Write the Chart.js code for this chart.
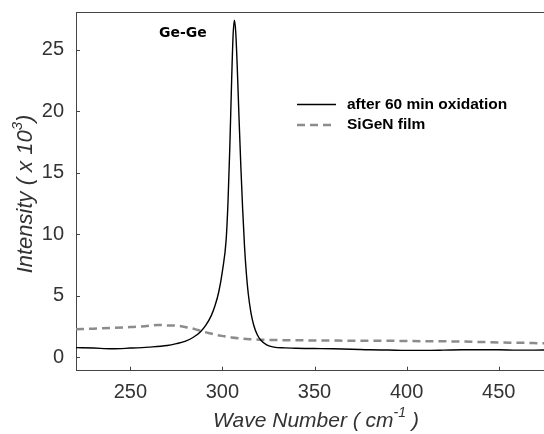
<!DOCTYPE html>
<html>
<head>
<meta charset="utf-8">
<script src="https://cdn.jsdelivr.net/npm/chart.js@4.4.0/dist/chart.umd.min.js"></script>
<style>
  html, body { margin: 0; padding: 0; background: #fff; }
</style>
</head>
<body>
<canvas id="raman" width="544" height="434"></canvas>
<script>
// Raman spectra (intensity in units of 10^3)
const oxWave = [220.5, 230, 240, 250, 260, 270, 275, 280, 284, 288, 291, 294, 296, 298, 300, 302, 303, 304, 305, 305.8, 306.5, 307.2, 308, 309, 310, 311, 312, 313, 314, 315.5, 317, 319, 321, 324, 328, 334, 340, 350, 360, 370, 380, 390, 400, 410, 420, 430, 440, 450, 460, 474.6];
const oxIntensity = [0.78, 0.74, 0.68, 0.74, 0.82, 0.95, 1.1, 1.3, 1.6, 2.05, 2.6, 3.4, 4.2, 5.3, 7.0, 9.5, 12.5, 17, 22.5, 26.2, 27.4, 26.5, 23.8, 19.5, 15.5, 12, 9, 6.8, 5.2, 3.6, 2.6, 1.8, 1.35, 1.0, 0.82, 0.76, 0.72, 0.7, 0.68, 0.65, 0.6, 0.58, 0.55, 0.55, 0.57, 0.6, 0.6, 0.6, 0.57, 0.58];

const filmWave = [220.5, 230, 240, 250, 258, 265, 270, 276, 281, 285, 289, 293, 297, 301, 305, 310, 315, 320, 326, 335, 350, 370, 390, 410, 430, 450, 465, 474.6];
const filmIntensity = [2.28, 2.32, 2.38, 2.45, 2.52, 2.62, 2.58, 2.55, 2.42, 2.28, 2.1, 1.95, 1.8, 1.7, 1.6, 1.52, 1.46, 1.42, 1.4, 1.38, 1.36, 1.34, 1.33, 1.3, 1.27, 1.2, 1.16, 1.13];

const seriesNames = ['after 60 min oxidation', 'SiGeN film'];
const xTicks = [250, 300, 350, 400, 450];
const yTicks = [0, 5, 10, 15, 20, 25];
const peakLabel = { text: 'Ge-Ge', x: 278.5, y: 26.3 };

const FONT = '"Liberation Sans", Arial, sans-serif';
const INK = '#333';

function toPoints(xs, ys) {
    return xs.map((x, i) => ({ x: x, y: ys[i] }));
}

// frame top line, inward tick marks, axis titles, legend, peak label
const decorations = {
    id: 'decorations',
    afterDraw(chart) {
        const { ctx, chartArea: area, scales: { x, y } } = chart;
        ctx.save();
        ctx.strokeStyle = '#444';
        ctx.lineWidth = 1;

        ctx.beginPath();
        ctx.moveTo(area.left, area.top + 0.5);
        ctx.lineTo(area.right, area.top + 0.5);
        xTicks.forEach(v => {
            const px = Math.round(x.getPixelForValue(v)) + 0.5;
            ctx.moveTo(px, area.bottom);
            ctx.lineTo(px, area.bottom - 4);
        });
        yTicks.forEach(v => {
            const py = Math.round(y.getPixelForValue(v)) + 0.5;
            ctx.moveTo(area.left, py);
            ctx.lineTo(area.left + 4, py);
        });
        ctx.stroke();

        // axis titles with superscripts
        ctx.fillStyle = INK;
        ctx.textBaseline = 'middle';
        ctx.textAlign = 'left';
        const drawSup = (parts, cx, cy, size) => {
            const setFont = p => { ctx.font = 'italic ' + (p.sup ? Math.round(size * 0.68) : size) + 'px ' + FONT; };
            let total = 0;
            parts.forEach(p => { setFont(p); total += ctx.measureText(p.t).width; });
            let px = cx - total / 2;
            parts.forEach(p => {
                setFont(p);
                ctx.fillText(p.t, px, p.sup ? cy - size * 0.38 : cy);
                px += ctx.measureText(p.t).width;
            });
        };
        drawSup([{ t: 'Wave Number ( cm' }, { t: '-1', sup: true }, { t: ' )' }], 316, 421, 21);

        ctx.save();
        ctx.translate(26, 194);
        ctx.rotate(-Math.PI / 2);
        drawSup([{ t: 'Intensity ( x 10' }, { t: '3', sup: true }, { t: ')' }], 0, 0, 22);
        ctx.restore();

        // peak annotation (heavy face, like the original)
        ctx.font = 'bold 14px "DejaVu Sans", sans-serif';
        ctx.textAlign = 'center';
        ctx.fillStyle = '#000';
        ctx.fillText(peakLabel.text, x.getPixelForValue(peakLabel.x), y.getPixelForValue(peakLabel.y));

        // legend
        ctx.textAlign = 'left';
        ctx.font = 'bold 15.5px ' + FONT;
        chart.data.datasets.forEach((ds, i) => {
            const ly = 104.5 + i * 20.5;
            ctx.save();
            ctx.strokeStyle = ds.borderColor;
            ctx.lineWidth = ds.borderWidth;
            ctx.setLineDash(ds.borderDash || []);
            ctx.beginPath();
            ctx.moveTo(297, ly);
            ctx.lineTo(336, ly);
            ctx.stroke();
            ctx.restore();
            ctx.fillText(ds.label, 347, ly);
        });
        ctx.restore();
    }
};

new Chart(document.getElementById('raman'), {
    type: 'line',
    data: {
        datasets: [
            {
                label: seriesNames[0],
                data: toPoints(oxWave, oxIntensity),
                borderColor: '#000',
                borderWidth: 1.4,
                pointRadius: 0,
                cubicInterpolationMode: 'monotone'
            },
            {
                label: seriesNames[1],
                data: toPoints(filmWave, filmIntensity),
                borderColor: '#8c8c8c',
                borderWidth: 2.5,
                borderDash: [8, 5],
                pointRadius: 0,
                cubicInterpolationMode: 'monotone'
            }
        ]
    },
    options: {
        responsive: false,
        animation: false,
        devicePixelRatio: 1,
        layout: { padding: { top: 12, right: 0, left: 0, bottom: 0 } },
        plugins: { legend: { display: false }, tooltip: { enabled: false } },
        scales: {
            x: {
                type: 'linear',
                min: 220.5,
                max: 474.6,
                afterBuildTicks: s => { s.ticks = xTicks.map(v => ({ value: v })); },
                afterFit: s => { s.height = 63.3; s.paddingLeft = 0; s.paddingRight = 0; },
                grid: { display: true, drawOnChartArea: false, drawTicks: false },
                border: { display: true, color: '#444', width: 1 },
                ticks: { color: INK, padding: 10, font: { family: FONT, size: 20 }, maxRotation: 0 }
            },
            y: {
                type: 'linear',
                min: -1.1,
                max: 28.07,
                afterBuildTicks: s => { s.ticks = yTicks.map(v => ({ value: v })); },
                afterFit: s => { s.width = 76; s.paddingTop = 0; s.paddingBottom = 0; },
                grid: { display: true, drawOnChartArea: false, drawTicks: false },
                border: { display: true, color: '#444', width: 1 },
                ticks: { color: INK, padding: 12, font: { family: FONT, size: 20 } }
            }
        }
    },
    plugins: [decorations]
});
</script>
</body>
</html>
